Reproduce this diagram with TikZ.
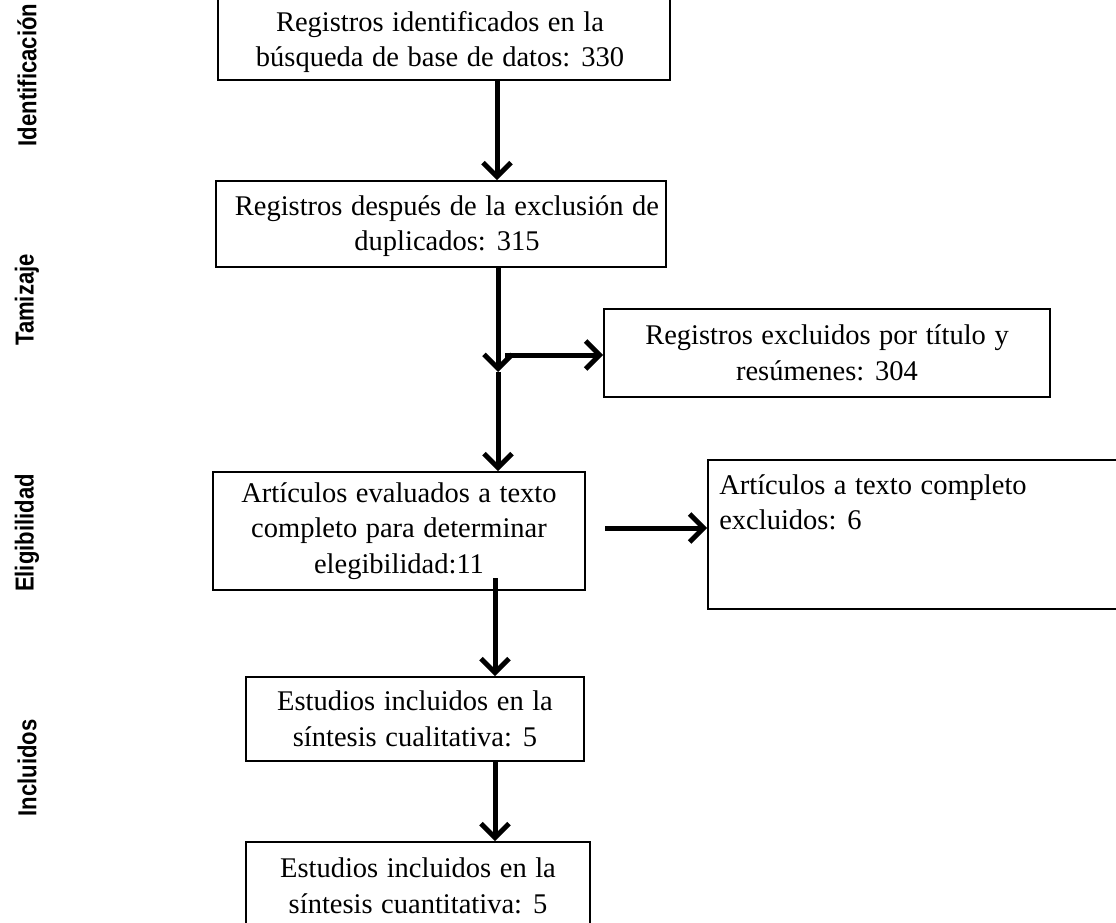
\documentclass[tikz,border=0pt]{standalone}
\usepackage{fontspec}
\setmainfont{Liberation Serif}[WordSpace=1.2]
\setsansfont{Liberation Sans}
\usetikzlibrary{arrows.meta}
\newcommand{\sidetxt}[1]{\scalebox{0.85}[1]{#1}}
\begin{document}
\begin{tikzpicture}[x=1pt,y=-1pt,
  box/.style={draw, line width=1.8pt, inner sep=0pt, align=center, font=\fontsize{28.5}{35.5}\selectfont},
  txt/.style={inner sep=0pt, align=center, font=\fontsize{28.5}{35.5}\selectfont},
  side/.style={rotate=90, font=\sffamily\bfseries\fontsize{26}{26}\selectfont},
  arr/.style={line width=5pt, -{Straight Barb[length=14pt,width=28pt,line width=5pt]}}]
\useasboundingbox (0,0) rectangle (1116,923);
\clip (0,0) rectangle (1116,923);
% side labels
\node[side] (s1) at (27,75) {\sidetxt{Identificación}};
\node[side] (s2) at (27,300) {\sidetxt{Tamizaje}};
\node[side] (s3) at (27,533) {\sidetxt{Eligibilidad}};
\node[side] (s4) at (27,768) {\sidetxt{Incluidos}};
% boxes
\node[box, minimum width=452pt, minimum height=86pt] (b1) at (444,37) {};
\node[txt] (b1t) at (440,42) {Registros identificados en la\\búsqueda de base de datos: 330};
\node[box, minimum width=450pt, minimum height=86pt] (b2) at (441,224) {};
\node[txt] (b2t) at (447,226) {Registros después de la exclusión de\\duplicados: 315};
\node[box, minimum width=446pt, minimum height=88pt] (e1) at (827,353) {Registros excluidos por título y\\resúmenes: 304};
\node[box, minimum width=372pt, minimum height=118pt] (b3) at (399,531) {Artículos evaluados a texto\\completo para determinar\\elegibilidad:11};
\node[box, minimum width=422pt, minimum height=149pt] (e2) at (919,534.5) {};
\node[anchor=north west, align=left, inner sep=0pt, font=\fontsize{28.5}{35.5}\selectfont] (e2t) at ([xshift=12pt,yshift=-15pt]e2.north west) {Artículos a texto completo\\excluidos: 6};
\node[box, minimum width=338pt, minimum height=84pt] (b4) at (415,719) {Estudios incluidos en la\\síntesis cualitativa: 5};
\node[box, minimum width=344pt, minimum height=88pt] (b5) at (418,886) {Estudios incluidos en la\\síntesis cuantitativa: 5};
% connectors
\coordinate (c1) at (497,80);
\draw[arr] (c1) -- (c1 |- b2.north);
\coordinate (c2) at (498,268);
\coordinate (m) at (498,372);
\draw[arr] (c2) -- (m);
\draw[arr] (m) -- (m |- b3.north);
\coordinate (h1) at (505,355);
\draw[arr] (h1) -- (h1 -| e1.west);
\coordinate (h2) at (605,528);
\draw[arr] (h2) -- (h2 -| e2.west);
\coordinate (c3) at (495,578);
\draw[arr] (c3) -- (c3 |- b4.north);
\coordinate (c4) at (495,762);
\draw[arr] (c4) -- (c4 |- b5.north);
\end{tikzpicture}
\end{document}
